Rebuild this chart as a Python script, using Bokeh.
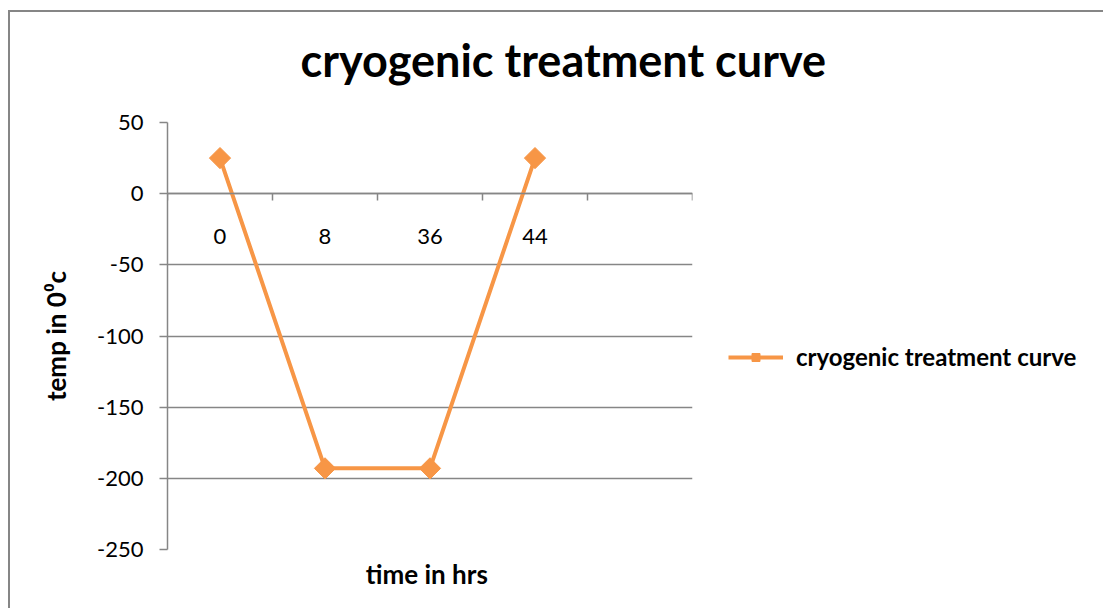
from bokeh.plotting import figure
from bokeh.models import (Range1d, LinearAxis, FixedTicker, Legend, LegendItem,
                          ColumnDataSource, Title)
from bokeh.embed import file_html
from bokeh.resources import INLINE
import math

# ---- data ----
time_labels = ["0", "8", "36", "44"]
temps = [25, -193, -193, 25]
n_slots = 5
y_ticks = [-250, -200, -150, -100, -50, 0, 50]
series_name = "cryogenic treatment curve"

ORANGE = "#F79646"
GRAY = "#868686"
FONT = "Lato"

xs = [i + 0.5 for i in range(len(time_labels))]
src = ColumnDataSource(dict(x=xs, y=temps))

p = figure(frame_width=525, frame_height=427, output_backend="svg", toolbar_location=None,
           x_range=Range1d(0, n_slots), y_range=Range1d(-250, 50),
           x_axis_location=None, y_axis_location="left",
           min_border_left=157, min_border_right=0, min_border_top=110,
           min_border_bottom=59)
p.styles = {"margin-left": "8px", "margin-top": "10px",
            "border-left": "2px solid #868686", "border-top": "2px solid #868686"}
p.outline_line_color = None
p.background_fill_color = "white"
p.border_fill_color = "white"
p.title.visible = False

# spacer between frame and chart title, then the chart title itself
p.add_layout(Title(text=" ", text_font=FONT, text_font_size="10px", standoff=22),
             "above")
p.add_layout(Title(text=series_name, align="left", offset=133, vertical_align="bottom",
                   text_font=FONT, text_font_size="45px", text_font_style="bold",
                   text_color="black", standoff=0), "above")

# y axis
ya = p.yaxis[0]
ya.ticker = FixedTicker(ticks=y_ticks)
ya.major_label_overrides = {t: str(t) for t in y_ticks}
ya.axis_line_color = GRAY
ya.axis_line_width = 1.5
ya.major_tick_line_color = GRAY
ya.major_tick_line_width = 1.5
ya.major_tick_out = 8
ya.major_tick_in = 0
ya.minor_tick_line_color = None
ya.major_label_standoff = 16
ya.major_label_text_font = FONT
ya.major_label_text_font_size = "22px"
ya.major_label_text_color = "black"
ya.axis_label = "temp in 0\u2070c"
ya.axis_label_text_font = FONT
ya.axis_label_text_font_size = "26px"
ya.axis_label_text_font_style = "bold"
ya.axis_label_text_color = "black"
ya.axis_label_standoff = 22

p.ygrid.ticker = FixedTicker(ticks=y_ticks)
p.ygrid.grid_line_color = GRAY
p.ygrid.grid_line_width = 1.5
p.xgrid.visible = False

# category axis crossing at y = 0
xa = LinearAxis(ticker=FixedTicker(ticks=xs, minor_ticks=list(range(n_slots + 1))),
                fixed_location=0,
                major_label_overrides={x: lab for x, lab in zip(xs, time_labels)},
                major_tick_out=0, major_tick_in=0,
                minor_tick_out=7, minor_tick_in=0,
                minor_tick_line_color=GRAY, minor_tick_line_width=1.5,
                axis_line_color=GRAY, axis_line_width=1.5,
                major_label_standoff=28,
                major_label_text_font=FONT, major_label_text_font_size="22px",
                major_label_text_color="black")
p.add_layout(xa, "below")

# bottom axis carrying the axis title
xb = LinearAxis(ticker=FixedTicker(ticks=[]), axis_label="time  in hrs",
                axis_line_color=None, major_tick_line_color=None,
                minor_tick_line_color=None,
                axis_label_text_font=FONT, axis_label_text_font_size="26px",
                axis_label_text_font_style="bold", axis_label_text_color="black",
                axis_label_standoff=8)
p.add_layout(xb, "below")

r_line = p.line("x", "y", source=src, line_color=ORANGE, line_width=4)
r_mark = p.scatter("x", "y", source=src, marker="square", angle=math.pi / 4,
                   size=15, fill_color=ORANGE, line_color=ORANGE)

legend = Legend(items=[LegendItem(label=series_name, renderers=[r_line, r_mark])],
                location=(36, 178), glyph_width=55, glyph_height=20,
                label_standoff=13, padding=0, margin=0, border_line_color=None,
                background_fill_alpha=0, label_text_font=FONT,
                label_text_font_size="24px", label_text_font_style="bold",
                label_text_color="black")
p.add_layout(legend, "right")

open("out.html", "w").write(file_html(p, INLINE))
